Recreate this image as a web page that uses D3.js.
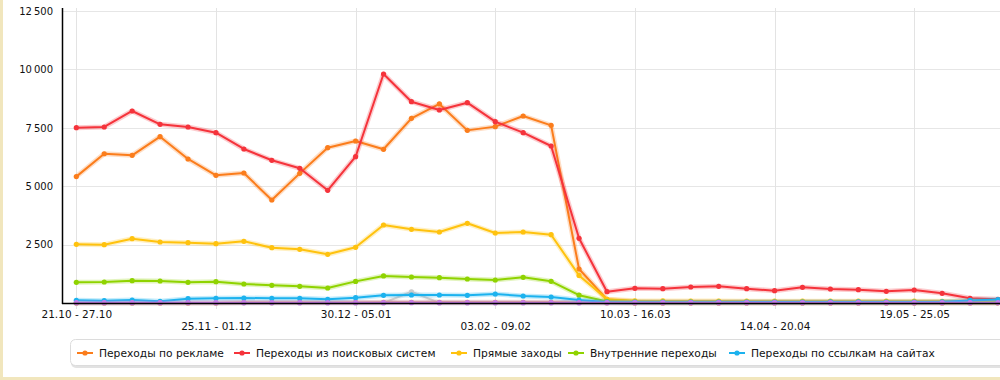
<!DOCTYPE html>
<html><head><meta charset="utf-8">
<script src="https://cdn.jsdelivr.net/npm/d3@7"></script>
<style>
html,body{margin:0;padding:0;background:#fff;}
svg{display:block;}
text{font-family:"DejaVu Sans",Verdana,sans-serif;}
</style></head>
<body>
<svg id="chart" width="1000" height="380"></svg>
<script>
const weeks = ["21.10 - 27.10","28.10 - 03.11","04.11 - 10.11","11.11 - 17.11","18.11 - 24.11",
"25.11 - 01.12","02.12 - 08.12","09.12 - 15.12","16.12 - 22.12","23.12 - 29.12",
"30.12 - 05.01","06.01 - 12.01","13.01 - 19.01","20.01 - 26.01","27.01 - 02.02",
"03.02 - 09.02","10.02 - 16.02","17.02 - 23.02","24.02 - 02.03","03.03 - 09.03",
"10.03 - 16.03","17.03 - 23.03","24.03 - 30.03","31.03 - 06.04","07.04 - 13.04",
"14.04 - 20.04","21.04 - 27.04","28.04 - 04.05","05.05 - 11.05","12.05 - 18.05",
"19.05 - 25.05","26.05 - 01.06","02.06 - 08.06","09.06 - 15.06"];

const xTickLabels = ["21.10 - 27.10","25.11 - 01.12","30.12 - 05.01","03.02 - 09.02","10.03 - 16.03","14.04 - 20.04","19.05 - 25.05"];
const yTicks = [2500, 5000, 7500, 10000, 12500];

const ads      = [5410,6390,6320,7120,6165,5466,5565,4410,5550,6650,6935,6580,7905,8520,7390,7550,8005,7605,1456,150,60,50,50,50,50,50,50,50,50,50,50,50,50,50];
const search   = [7505,7535,8220,7650,7535,7290,6593,6109,5766,4825,6263,9803,8618,8262,8575,7762,7291,6721,2770,484,628,613,685,713,613,527,670,599,571,500,556,414,200,157];
const direct   = [2512,2497,2753,2611,2583,2540,2640,2369,2298,2084,2383,3339,3153,3040,3411,2997,3040,2924,1180,158,95,90,85,85,80,80,80,80,80,80,80,75,70,60];
const internal = [885,899,956,942,885,913,813,756,713,642,925,1160,1113,1084,1027,985,1099,928,335,60,30,25,25,25,25,25,25,25,25,25,25,25,25,25];
const links    = [114,100,128,71,185,200,214,200,200,157,228,328,342,342,328,385,300,257,128,40,35,35,35,35,40,40,40,45,45,40,40,50,110,150];
const other    = [5,5,5,5,5,5,20,20,25,25,25,30,30,30,30,30,30,30,25,10,5,5,5,5,5,5,5,5,5,5,5,5,5,5];
const gray     = [5,5,5,5,5,5,5,5,5,5,5,5,480,5,5,5,5,5,5,5,5,5,5,5,5,5,5,5,5,5,5,5,5,5];
const purple   = [12,12,12,12,12,12,12,12,12,12,12,12,12,12,12,12,12,12,12,12,12,12,12,12,12,12,12,12,12,12,12,12,12,12];

const seriesNames = ["Переходы по рекламе","Переходы из поисковых систем","Прямые заходы","Внутренние переходы","Переходы по ссылкам на сайтах"];
const seriesValues = [ads, search, direct, internal, links];
const seriesColors = ["#fb7d1c","#f5333b","#ffc20e","#8fd300","#1cb2ee"];

const svg = d3.select("#chart");
const W = 1000, H = 380;

// frame
svg.append("rect").attr("x",0).attr("y",0).attr("width",W).attr("height",H).attr("fill","#fff");
svg.append("rect").attr("x",0).attr("y",0).attr("width",3).attr("height",H).attr("fill","#f1e6bd");
svg.append("rect").attr("x",0).attr("y",377).attr("width",W).attr("height",3).attr("fill","#f1e6bd");

const x = d3.scalePoint().domain(weeks).range([76.3, 998]);
const y = d3.scaleLinear().domain([0, 12500]).range([303, 11]);
const left = 62, right = 1000;

// horizontal grid
svg.append("g").selectAll("line").data(yTicks).join("line")
  .attr("x1", left).attr("x2", right)
  .attr("y1", d => Math.round(y(d)) + 0.5).attr("y2", d => Math.round(y(d)) + 0.5)
  .attr("stroke", "#e6e6e6");

// vertical grid
svg.append("g").selectAll("line").data(xTickLabels).join("line")
  .attr("x1", d => Math.round(x(d)) + 0.5).attr("x2", d => Math.round(x(d)) + 0.5)
  .attr("y1", 8).attr("y2", 309)
  .attr("stroke", "#e3e3e3");

// y axis
const yAxis = d3.axisLeft(y).tickValues(yTicks).tickSize(0).tickPadding(9)
  .tickFormat(d => d3.format(",")(d).replace(/,/g, "\u2009"));
const gy = svg.append("g").attr("transform", `translate(${left},0)`).call(yAxis);
gy.select(".domain").remove();
gy.selectAll("text").attr("font-family", '"DejaVu Sans",Verdana,sans-serif').attr("font-size", "10px").attr("fill", "#111");
svg.append("line").attr("x1", left + 0.5).attr("x2", left + 0.5).attr("y1", 8).attr("y2", 304).attr("stroke", "#000").attr("stroke-width", 1.5);

// x axis
const xAxis = d3.axisBottom(x).tickValues(xTickLabels).tickSize(0).tickPadding(0);
const gx = svg.append("g").attr("transform", `translate(0,303)`).call(xAxis);
gx.select(".domain").remove();
gx.selectAll("text")
  .attr("font-family", '"DejaVu Sans",Verdana,sans-serif').attr("font-size", "10.5px").attr("fill", "#111")
  .attr("dy", null)
  .attr("y", (d, i) => i % 2 === 0 ? 15 : 27);

// series
const line = d3.line().x((d, i) => x(weeks[i])).y(d => y(d));
const plot = svg.append("g");

function drawSeries(vals, color, width) {
  plot.append("path").datum(vals).attr("d", line).attr("fill", "none")
    .attr("stroke", color).attr("stroke-opacity", 0.25).attr("stroke-width", width + 3)
    .attr("stroke-linejoin", "round");
  plot.append("path").datum(vals).attr("d", line).attr("fill", "none")
    .attr("stroke", color).attr("stroke-width", width).attr("stroke-linejoin", "round");
  plot.append("g").selectAll("circle").data(vals).join("circle")
    .attr("cx", (d, i) => x(weeks[i])).attr("cy", d => y(d)).attr("r", 2.6).attr("fill", color);
}

drawSeries(gray, "#cccccc", 2);
drawSeries(other, "#d9995a", 2);
for (let k = 0; k < seriesValues.length; k++) drawSeries(seriesValues[k], seriesColors[k], 2);
drawSeries(purple, "#c57be6", 2);

// x axis line
svg.append("line").attr("x1", left).attr("x2", right).attr("y1", 303.5).attr("y2", 303.5).attr("stroke", "#000").attr("stroke-width", 1.5);

// legend
const legendTextX = [99, 256, 473, 590, 751];
svg.append("rect").attr("x", 71).attr("y", 341).attr("width", 940).attr("height", 27).attr("rx", 5)
  .attr("fill", "#e2e2e2");
svg.append("rect").attr("x", 70.5).attr("y", 339.5).attr("width", 940).attr("height", 26).attr("rx", 5)
  .attr("fill", "#fff").attr("stroke", "#dcdcdc");
const lg = svg.append("g").selectAll("g").data(seriesNames).join("g")
  .attr("transform", (d, i) => `translate(${legendTextX[i]},353)`);
lg.append("line").attr("x1", -22).attr("x2", -6).attr("y1", 0).attr("y2", 0)
  .attr("stroke", (d, i) => seriesColors[i]).attr("stroke-width", 2);
lg.append("circle").attr("cx", -14).attr("cy", 0).attr("r", 2.6).attr("fill", (d, i) => seriesColors[i]);
lg.append("text").attr("x", 0).attr("y", 4).text(d => d)
  .attr("font-size", "10.7px").attr("fill", "#111");
</script>
</body></html>
